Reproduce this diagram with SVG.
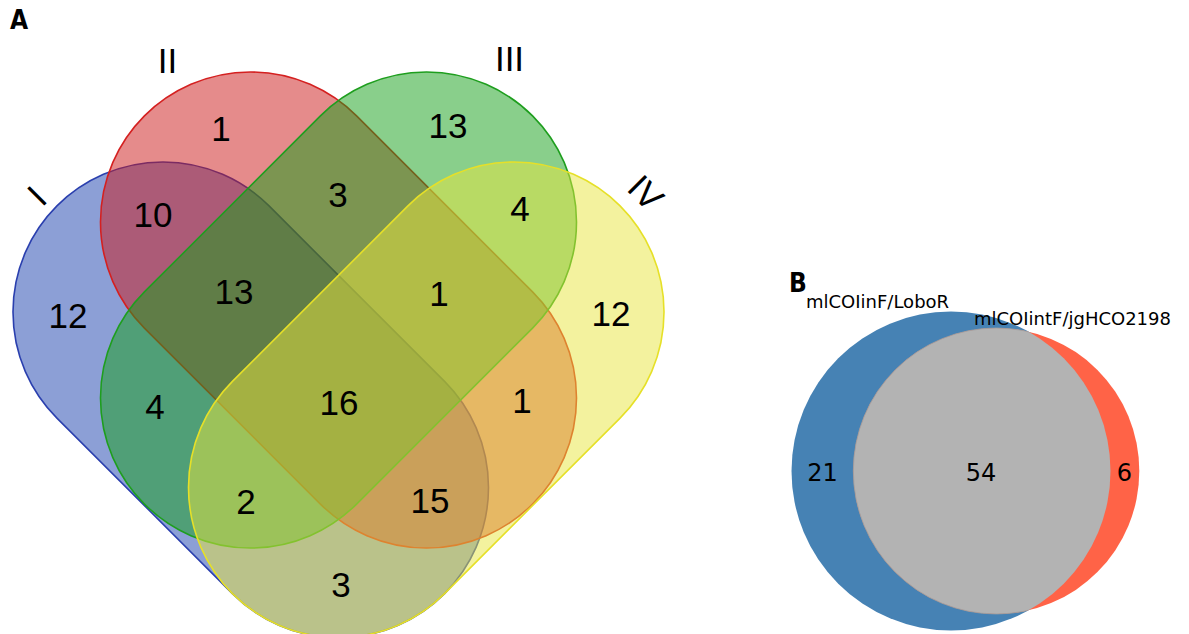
<svg xmlns="http://www.w3.org/2000/svg" width="1189" height="634" viewBox="0 0 1189 634">
<style>
.num{font-family:"Liberation Sans",Arial,sans-serif;font-size:35px;fill:#000;text-anchor:middle}
.lab{font-family:"Liberation Sans",Arial,sans-serif;font-size:35px;fill:#000;text-anchor:middle}
.panel{font-family:"DejaVu Sans Condensed","DejaVu Sans",sans-serif;font-weight:bold;font-size:26px;fill:#000}
.bt{font-family:"DejaVu Sans",sans-serif;font-size:18px;fill:#000}
.bn{font-family:"DejaVu Sans",sans-serif;font-size:24px;fill:#000;text-anchor:middle}
.set{fill-opacity:0.5;stroke-width:1.6}
</style>
<defs>
<clipPath id="clipBlue"><circle cx="951" cy="471" r="159.5"/></clipPath>
</defs>
<rect width="1189" height="634" fill="#fff"/>
<text class="panel" x="10" y="29">A</text>
<g id="setI"><rect class="set" x="-274.1" y="-150" width="548.2" height="300" rx="150" ry="150" transform="translate(250.75,399.75) rotate(45)" fill="#1a3fad" stroke="#2a3fae"/></g>
<g id="setII"><rect class="set" x="-274.45" y="-150" width="548.9" height="300" rx="150" ry="150" transform="translate(338.5,310) rotate(45)" fill="#cb1717" stroke="#d42020"/></g>
<g id="setIII"><rect class="set" x="-274.45" y="-150" width="548.9" height="300" rx="150" ry="150" transform="translate(338.5,310) rotate(-45)" fill="#139f17" stroke="#1e9e1e"/></g>
<g id="setIV"><rect class="set" x="-274.1" y="-150" width="548.2" height="300" rx="150" ry="150" transform="translate(426.25,399.75) rotate(-45)" fill="#e7e53d" stroke="#e6e028"/></g>
<g id="labelsA">
<text class="lab" transform="translate(36.5,195.5) rotate(-45)" y="12.5">I</text>
<text class="lab" x="167.5" y="73">II</text>
<text class="lab" x="509.5" y="71">III</text>
<text class="lab" transform="translate(646,192.5) rotate(45)" y="12.5">IV</text>
</g>
<g id="countsA">
<text class="num" x="68" y="328">12</text>
<text class="num" x="153" y="227">10</text>
<text class="num" x="234" y="304">13</text>
<text class="num" x="155" y="419">4</text>
<text class="num" x="221" y="141">1</text>
<text class="num" x="338" y="207">3</text>
<text class="num" x="448" y="138">13</text>
<text class="num" x="520" y="221">4</text>
<text class="num" x="611" y="326">12</text>
<text class="num" x="439" y="306">1</text>
<text class="num" x="339" y="415">16</text>
<text class="num" x="522" y="413">1</text>
<text class="num" x="430" y="513">15</text>
<text class="num" x="246" y="514">2</text>
<text class="num" x="341" y="597">3</text>
</g>
<text class="panel" x="789" y="292">B</text>
<g id="setB1"><circle cx="951" cy="471" r="159.5" fill="#4682b4"/></g>
<g id="setB2"><circle cx="996.3" cy="471" r="143" fill="#ff6347"/></g>
<g id="overlapB"><circle cx="996.3" cy="471" r="143" fill="#b3b3b3" stroke="#a0a0a0" stroke-width="0.8" clip-path="url(#clipBlue)"/></g>
<g id="labelsB">
<text class="bt" x="806" y="308">mlCOIinF/LoboR</text>
<text class="bt" x="974" y="325">mlCOIintF/jgHCO2198</text>
<text class="bn" x="822.5" y="481">21</text>
<text class="bn" x="981" y="481">54</text>
<text class="bn" x="1124.5" y="481">6</text>
</g>
</svg>
